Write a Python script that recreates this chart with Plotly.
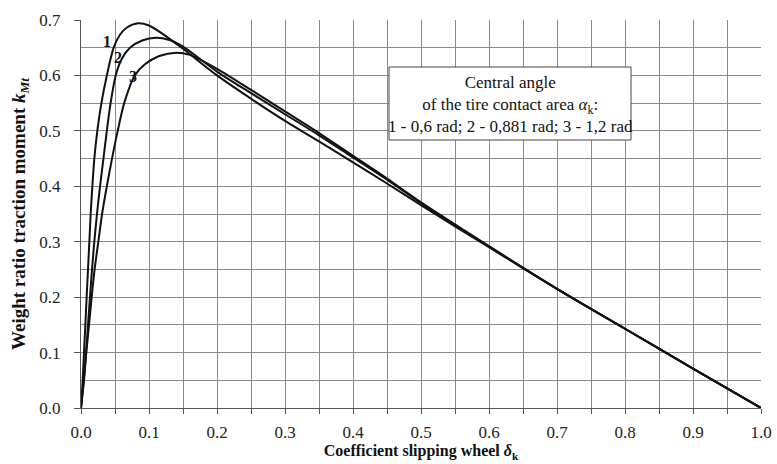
import plotly.graph_objects as go

# ---- data ----
slip_1 = [0, 0.0025, 0.0044, 0.0064, 0.0083, 0.0103, 0.0123, 0.0142, 0.0167, 0.0196, 0.024, 0.030, 0.038,
          0.048, 0.057, 0.067, 0.084, 0.10, 0.12, 0.15, 0.20, 0.25, 0.30, 0.35, 0.40, 0.45, 0.50, 0.60,
          0.70, 0.80, 0.90, 1.0]
k_1 = [0, 0.05, 0.10, 0.15, 0.20, 0.25, 0.30, 0.35, 0.40, 0.45, 0.50, 0.55, 0.60,
       0.65, 0.673, 0.686, 0.694, 0.690, 0.675, 0.648, 0.600, 0.558, 0.518, 0.481, 0.443, 0.405, 0.366, 0.290,
       0.215, 0.143, 0.071, 0]

slip_2 = [0, 0.004, 0.0074, 0.0103, 0.0132, 0.0162, 0.0196, 0.0235, 0.028, 0.033, 0.038, 0.0435, 0.051,
          0.060, 0.072, 0.090, 0.110, 0.130, 0.150, 0.20, 0.25, 0.30, 0.35, 0.40, 0.45, 0.50, 0.60,
          0.70, 0.80, 0.90, 1.0]
k_2 = [0, 0.05, 0.10, 0.15, 0.20, 0.25, 0.30, 0.35, 0.40, 0.45, 0.50, 0.55, 0.60,
       0.630, 0.650, 0.663, 0.668, 0.664, 0.652, 0.607, 0.568, 0.530, 0.492, 0.452, 0.412, 0.370, 0.291,
       0.215, 0.143, 0.071, 0]

slip_3 = [0, 0.0044, 0.0078, 0.0118, 0.0157, 0.020, 0.0255, 0.031, 0.038, 0.0456, 0.054, 0.0635, 0.079,
          0.094, 0.115, 0.140, 0.160, 0.20, 0.25, 0.30, 0.35, 0.40, 0.45, 0.50, 0.60,
          0.70, 0.80, 0.90, 1.0]
k_3 = [0, 0.05, 0.10, 0.15, 0.20, 0.25, 0.30, 0.35, 0.40, 0.45, 0.50, 0.55, 0.60,
       0.620, 0.635, 0.641, 0.637, 0.612, 0.574, 0.535, 0.496, 0.455, 0.414, 0.371, 0.292,
       0.215, 0.143, 0.071, 0]

curve_labels = ["1", "2", "3"]
label_x = [0.038, 0.055, 0.077]
label_y = [0.662, 0.632, 0.598]

x_ticks = [0.0, 0.1, 0.2, 0.3, 0.4, 0.5, 0.6, 0.7, 0.8, 0.9, 1.0]
y_ticks = [0.0, 0.1, 0.2, 0.3, 0.4, 0.5, 0.6, 0.7]

legend_lines = ["Central angle",
                "of the tire contact area <i>α</i><sub>k</sub>:",
                "1 - 0,6 rad; 2 - 0,881 rad; 3 - 1,2 rad"]

SERIF = "Liberation Serif, Times New Roman, serif"

W, H = 777, 464
# plot-area geometry in screen pixels (from the reference)
L, R, T, B = 81, 761, 20, 408

def px_x(p):
    return (p - L) / (R - L)

def px_y(p):
    return (B - p) / (B - T)

fig = go.Figure()
for xs, ys, name in [(slip_1, k_1, "1"), (slip_2, k_2, "2"), (slip_3, k_3, "3")]:
    fig.add_trace(go.Scatter(x=xs, y=ys, mode="lines", name=name,
                             line=dict(color="#111", width=2, shape="spline", smoothing=0.8),
                             showlegend=False, hoverinfo="skip"))

for t, xv, yv in zip(curve_labels, label_x, label_y):
    fig.add_annotation(x=xv, y=yv, text=f"<b>{t}</b>", showarrow=False,
                       font=dict(family=SERIF, size=16, color="#111"))

# legend box
fig.add_shape(type="rect", xref="paper", yref="paper",
              x0=px_x(389), x1=px_x(631), y0=px_y(140), y1=px_y(67),
              fillcolor="white", line=dict(color="#444", width=1), layer="above")
fig.add_annotation(xref="paper", yref="paper", x=px_x(510), y=px_y(104),
                   xanchor="center", yanchor="middle",
                   text="<br>".join(legend_lines), showarrow=False, align="center",
                   font=dict(family=SERIF, size=17, color="#111"))

fig.update_layout(
    width=W, height=H,
    margin=dict(l=L, r=W - R, t=T, b=H - B, pad=0),
    plot_bgcolor="white", paper_bgcolor="white",
    font=dict(family=SERIF, size=17, color="#222"),
    xaxis=dict(range=[0, 1], tickvals=x_ticks, ticktext=[f"{v:.1f}" for v in x_ticks],
               automargin=False,
               showgrid=True, gridcolor="#8a8a8a", gridwidth=1,
               minor=dict(dtick=0.05, showgrid=True, gridcolor="#8a8a8a", ticks="outside",
                          ticklen=5, tickcolor="#555"),
               ticks="outside", ticklen=5, tickcolor="#555", ticklabelstandoff=4,
               showline=True, linecolor="#555", linewidth=1, zeroline=False,
               title=dict(text="<b>Coefficient slipping wheel <i>δ</i><sub>k</sub></b>",
                          font=dict(family=SERIF, size=16, color="#111"), standoff=2)),
    yaxis=dict(range=[0, 0.7], tickvals=y_ticks, ticktext=[f"{v:.1f}" for v in y_ticks],
               automargin=False,
               showgrid=True, gridcolor="#8a8a8a", gridwidth=1,
               minor=dict(dtick=0.05, showgrid=True, gridcolor="#8a8a8a"),
               ticks="outside", ticklen=6, tickcolor="#555", ticklabelstandoff=10,
               showline=True, linecolor="#555", linewidth=1, zeroline=False,
               title=dict(text="<b>Weight ratio traction moment <i>k<sub>Mt</sub></i></b>",
                          font=dict(family=SERIF, size=19, color="#111"), standoff=8)),
)

fig.write_html("out.html",
               config={"displayModeBar": False},
               post_script="document.body.style.margin='0';document.body.style.overflow='hidden';")
